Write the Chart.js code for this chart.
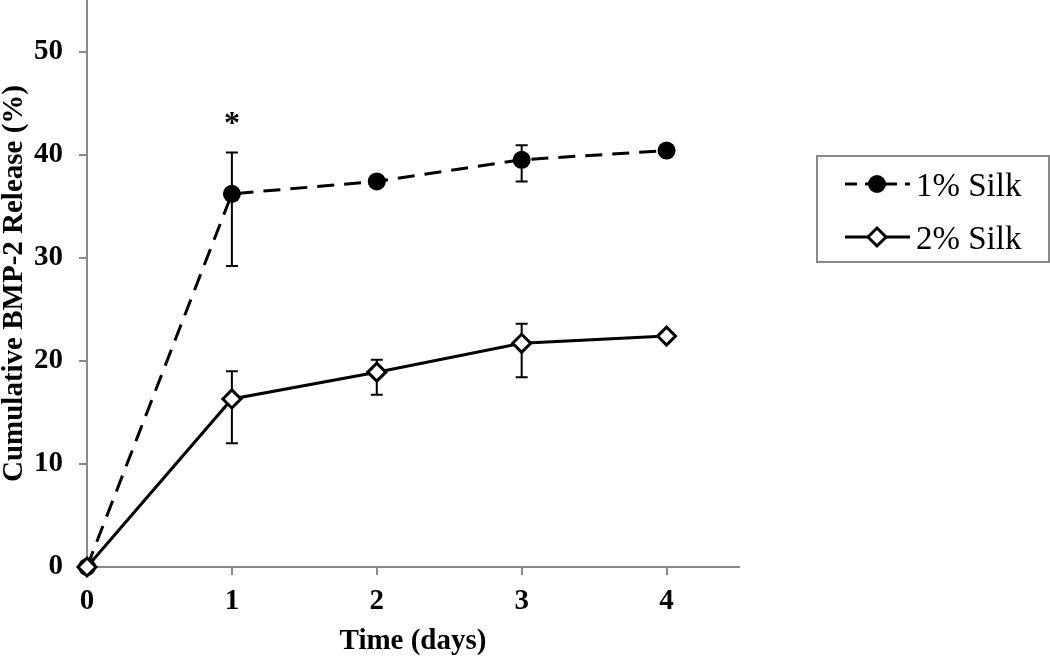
<!DOCTYPE html>
<html>
<head>
<meta charset="utf-8">
<script src="https://cdn.jsdelivr.net/npm/chart.js@4"></script>
<style>
  body { margin: 0; background: #fff; }
  #wrap { width: 1050px; height: 659px; position: relative; }
</style>
</head>
<body>
<div id="wrap"><canvas id="releaseChart"></canvas></div>
<script>
// data
const days = [0, 1, 2, 3, 4];
const silk1 = [0, 36.2, 37.4, 39.5, 40.4];
const silk1Up = [0, 4.0, 0, 1.4, 0];
const silk1Down = [0, 7.0, 0, 2.1, 0];
const silk2 = [0, 16.3, 18.9, 21.7, 22.4];
const silk2Up = [0, 2.7, 1.2, 1.9, 0];
const silk2Down = [0, 4.3, 2.2, 3.3, 0];
const yTicks = [0, 10, 20, 30, 40, 50];
const xTicks = [0, 1, 2, 3, 4];
const starDay = 1;
const starValue = 43.5;

const axisGrey = "#898989";
const serif = "'Liberation Serif', 'Times New Roman', serif";

const toPoints = (vals) => days.map((d, i) => ({ x: d, y: vals[i] }));

const errorBars = {
    id: "errorBars",
    beforeDatasetsDraw(chart) {
        const { ctx, scales: { x, y } } = chart;
        const sets = [[silk1, silk1Up, silk1Down], [silk2, silk2Up, silk2Down]];
        ctx.save();
        ctx.strokeStyle = "#000";
        ctx.lineWidth = 2;
        sets.forEach(([vals, up, down]) => {
            days.forEach((d, i) => {
                if (!up[i] && !down[i]) return;
                const px = x.getPixelForValue(d);
                const top = y.getPixelForValue(vals[i] + up[i]);
                const bot = y.getPixelForValue(vals[i] - down[i]);
                ctx.beginPath();
                ctx.moveTo(px, top); ctx.lineTo(px, bot);
                ctx.moveTo(px - 6, top); ctx.lineTo(px + 6, top);
                ctx.moveTo(px - 6, bot); ctx.lineTo(px + 6, bot);
                ctx.stroke();
            });
        });
        ctx.restore();
    },
    afterDraw(chart) {
        const { ctx, scales: { x, y } } = chart;
        ctx.save();
        // significance star
        ctx.fillStyle = "#000";
        ctx.font = "bold 32px " + serif;
        ctx.textAlign = "center";
        ctx.textBaseline = "alphabetic";
        ctx.fillText("*", x.getPixelForValue(starDay), y.getPixelForValue(starValue) + 14);

        // legend box
        ctx.strokeStyle = axisGrey;
        ctx.lineWidth = 2;
        ctx.strokeRect(817, 156, 232, 106);

        ctx.strokeStyle = "#000";
        ctx.lineWidth = 3;
        ctx.setLineDash([12, 8]);
        ctx.beginPath(); ctx.moveTo(845, 184); ctx.lineTo(910, 184); ctx.stroke();
        ctx.setLineDash([]);
        ctx.beginPath(); ctx.arc(877, 184, 9, 0, Math.PI * 2); ctx.fill();

        ctx.beginPath(); ctx.moveTo(845, 237); ctx.lineTo(910, 237); ctx.stroke();
        ctx.beginPath();
        ctx.moveTo(877, 228); ctx.lineTo(886, 237); ctx.lineTo(877, 246); ctx.lineTo(868, 237); ctx.closePath();
        ctx.fillStyle = "#fff"; ctx.fill(); ctx.stroke();

        ctx.fillStyle = "#000";
        ctx.font = "33px " + serif;
        ctx.textAlign = "left";
        ctx.textBaseline = "alphabetic";
        ctx.fillText("1% Silk", 916, 196);
        ctx.fillText("2% Silk", 916, 249);
        ctx.restore();
    }
};

new Chart(document.getElementById("releaseChart"), {
    type: "line",
    data: {
        datasets: [
            {
                label: "2% Silk",
                data: toPoints(silk2),
                borderColor: "#000",
                borderWidth: 3,
                pointStyle: "rectRot",
                pointRadius: 9,
                pointBorderWidth: 3,
                pointBackgroundColor: "#fff",
                pointBorderColor: "#000",
                clip: false,
                order: 0
            },
            {
                label: "1% Silk",
                data: toPoints(silk1),
                borderColor: "#000",
                borderWidth: 3,
                borderDash: [17, 10],
                pointStyle: "circle",
                pointRadius: 9,
                pointBorderWidth: 0,
                pointBackgroundColor: "#000",
                clip: false,
                order: 1
            }
        ]
    },
    options: {
        responsive: true,
        maintainAspectRatio: false,
        animation: false,
        layout: { autoPadding: false, padding: { top: 0, right: 311, bottom: 0, left: 0 } },
        plugins: {
            legend: { display: false },
            tooltip: { enabled: false }
        },
        scales: {
            x: {
                type: "linear",
                min: 0,
                max: 4.5,
                afterFit: (s) => { s.height = 92; s.paddingLeft = 0; s.paddingRight = 0; },
                afterBuildTicks: (s) => { s.ticks = xTicks.map(v => ({ value: v })); },
                grid: { drawOnChartArea: false, tickLength: 8, color: axisGrey, lineWidth: 2 },
                border: { color: axisGrey, width: 2 },
                ticks: { color: "#000", padding: 9, font: { family: serif, size: 29, weight: "bold" } },
                title: {
                    display: true,
                    text: "Time (days)",
                    color: "#000",
                    padding: 0,
                    font: { family: serif, size: 29, weight: "bold" }
                }
            },
            y: {
                min: 0,
                max: 55,
                afterFit: (s) => { s.width = 87; s.paddingTop = 0; s.paddingBottom = 0; },
                afterBuildTicks: (s) => { s.ticks = yTicks.map(v => ({ value: v })); },
                grid: { drawOnChartArea: false, tickLength: 8, color: axisGrey, lineWidth: 2 },
                border: { color: axisGrey, width: 2 },
                ticks: { color: "#000", padding: 16, font: { family: serif, size: 29, weight: "bold" } },
                title: {
                    display: true,
                    text: "Cumulative BMP-2 Release (%)",
                    color: "#000",
                    padding: { top: -3, bottom: 0 },
                    font: { family: serif, size: 29, weight: "bold" }
                }
            }
        }
    },
    plugins: [errorBars]
});
</script>
</body>
</html>
